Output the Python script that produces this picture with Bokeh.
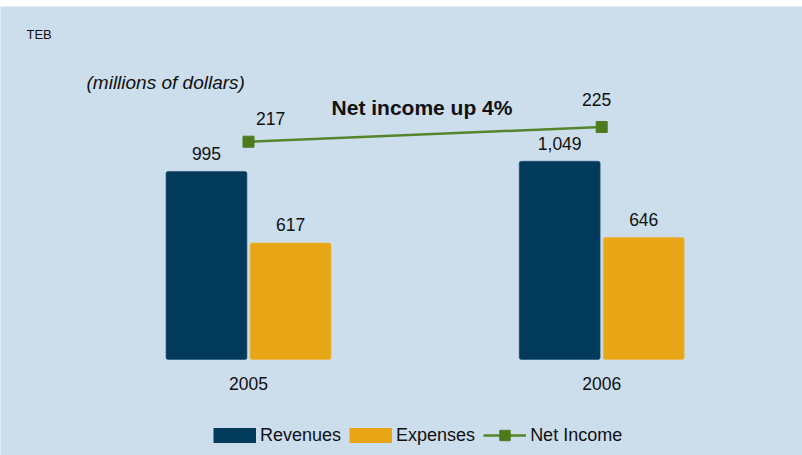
from bokeh.plotting import figure
from bokeh.models import Range1d, Legend, LegendItem, Label, ColumnDataSource
from bokeh.core.properties import value
from bokeh.transform import dodge
from bokeh.embed import file_html
from bokeh.resources import INLINE

# ---- data ----
years = ["2005", "2006"]
revenues = [995, 1049]
expenses = [617, 646]
net_income = [217, 225]
series_names = ["Revenues", "Expenses", "Net Income"]
title_text = "Net income up 4%"
unit_text = "(millions of dollars)"
corner_text = "TEB"

# ---- styles ----
BG = "#CCDDEC"
NAVY = "#023A5B"
GOLD = "#E8A617"
GREEN = "#55852A"
GREEN_M = "#4E7A1E"
TXT = "#111111"
FONT = "Liberation Sans"

W, H = 802, 455
TOP = 6
idx = list(range(len(years)))

src = ColumnDataSource(dict(
    x=idx,
    year=years,
    rev=revenues,
    exp=expenses,
    ni=net_income,
    rev_lbl=[f"{v:,}" for v in revenues],
    exp_lbl=[f"{v:,}" for v in expenses],
    zero=[0] * len(years),
))

p = figure(width=W, height=H, output_backend="svg", toolbar_location=None,
           x_range=Range1d(-0.7022, 1.5685), y_range=Range1d(-507.9, 1867.7),
           x_axis_type=None, y_axis_type=None, min_border=0, min_border_top=TOP,
           background_fill_color=BG, border_fill_color="white", outline_line_color=None)
p.grid.visible = False
p.extra_y_ranges = {"ni": Range1d(46.23, 290.58)}

BW = 0.229
OFF = 0.119
p.vbar(x=dodge("x", -OFF), top="rev", bottom=0, width=BW, source=src,
       fill_color=NAVY, line_color="#1C4F70", line_width=0.6, border_radius=2)
p.vbar(x=dodge("x", OFF), top="exp", bottom=0, width=BW, source=src,
       fill_color=GOLD, line_color="#EDB640", line_width=0.6, border_radius=2)

# bar value labels
common = dict(text_font=value(FONT), text_font_size="17.5px", text_color=TXT,
              text_align="center", text_baseline="alphabetic")
p.text(x=dodge("x", -OFF), y="rev", text="rev_lbl", source=src, y_offset=-18, **common)
p.text(x=dodge("x", OFF), y="exp", text="exp_lbl", source=src, y_offset=-18, **common)

# year labels
p.text(x="x", y="zero", text="year", source=src, y_offset=24,
       text_font=value(FONT), text_font_size="17.5px", text_color=TXT,
       text_align="center", text_baseline="middle")

# net income line
ln = p.line(x="x", y="ni", source=src, y_range_name="ni", line_color=GREEN, line_width=2.5)
mk = p.scatter(x="x", y="ni", source=src, y_range_name="ni", marker="square", size=11,
               fill_color=GREEN_M, line_color=GREEN_M)
src_off = ColumnDataSource(dict(x=idx, ni=net_income, lbl=[f"{v:,}" for v in net_income],
                                xo=[22, -5], yo=[-23, -28]))
p.text(x="x", y="ni", text="lbl", source=src_off, y_range_name="ni",
       x_offset="xo", y_offset="yo", **common)

# annotations (screen units measured from the frame's bottom-left)
p.add_layout(Label(x=26, y=H - 33.7, x_units="screen", y_units="screen", text=corner_text,
                   text_font=FONT, text_font_size="13px", text_color=TXT,
                   text_baseline="alphabetic"))
p.add_layout(Label(x=86, y=H - 81.7, x_units="screen", y_units="screen", text=unit_text,
                   text_font=FONT, text_font_size="19px", text_font_style="italic",
                   text_color=TXT, text_baseline="alphabetic"))
p.add_layout(Label(x=421.5, y=H - 107, x_units="screen", y_units="screen", text=title_text,
                   text_font=FONT, text_font_size="21px", text_font_style="bold",
                   text_color=TXT, text_align="center", text_baseline="middle"))

# legend (swatches drawn as thick butt-capped lines)
sw_rev = p.line([0, 1], [0, 0], line_color=NAVY, line_width=15, line_cap="butt", visible=False)
sw_exp = p.line([0, 1], [0, 0], line_color=GOLD, line_width=15, line_cap="butt", visible=False)
legend = Legend(items=[
    LegendItem(label=series_names[0], renderers=[sw_rev]),
    LegendItem(label=series_names[1], renderers=[sw_exp]),
    LegendItem(label=series_names[2], renderers=[ln, mk]),
], orientation="horizontal", location=(213, 7), glyph_width=43, glyph_height=26,
    label_standoff=4, spacing=8, padding=0, margin=0, border_line_color=None,
    background_fill_alpha=0, label_text_font=FONT, label_text_font_size="18px",
    label_text_color=TXT)
p.add_layout(legend)

open("out.html", "w").write(file_html(p, INLINE))
